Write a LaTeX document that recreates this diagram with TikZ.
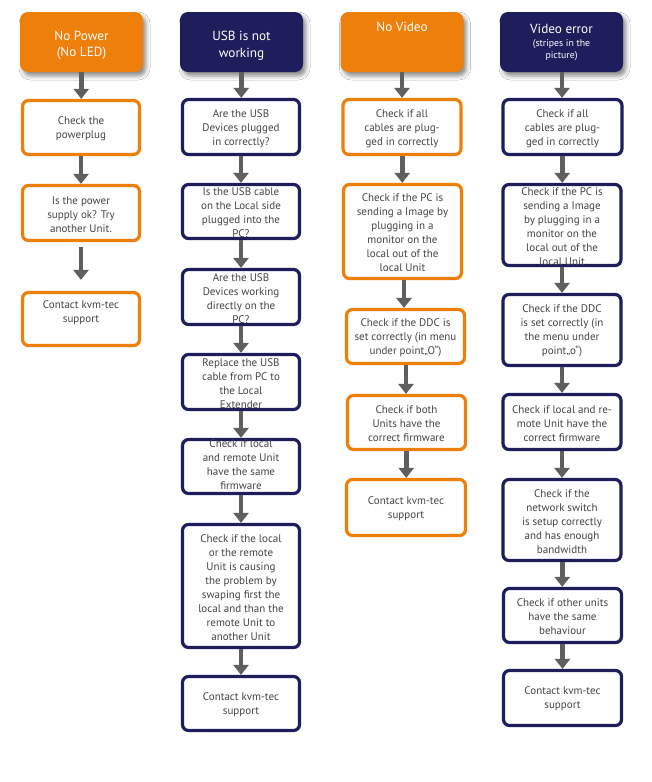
\documentclass[tikz,border=0pt]{standalone}
\usepackage{fontspec}
\setmainfont{PT Sans}
\usetikzlibrary{arrows.meta,calc,shadows.blur}
\definecolor{korange}{HTML}{EE7F0A}
\definecolor{knavy}{HTML}{1F1E5C}
\definecolor{ktext}{HTML}{444446}
\definecolor{karrow}{HTML}{5F5F5F}
\newcommand{\tb}[2][-4pt]{\makebox[0pt]{\raisebox{#1}[0pt][0pt]{\parbox[c]{150pt}{\centering #2}}}}
\newcommand{\hfour}{Video error\par\vspace{0.5pt}{\fontsize{9.8}{12.5}\selectfont (stripes in the\\picture)\par}}
\newcommand{\conn}[3][]{\draw[arr,#1] let \p1=(#2.south), \p2=(#3.north) in (\x1/2+\x2/2,\y1) -- (\x1/2+\x2/2,\y2);}
\tikzset{
  hdr/.style={fill=#1, rounded corners=8pt, minimum width=123pt, minimum height=60pt, inner sep=0pt,
    text=white, font=\fontsize{13.2}{16.5}\selectfont,
    blur shadow={shadow xshift=3pt, shadow yshift=-4pt, shadow blur radius=4pt, shadow opacity=45}},
  bx/.style={draw=#1, line width=3.2pt, fill=white, rounded corners=6pt, inner sep=0pt,
    text=ktext, font=\fontsize{11}{14}\selectfont},
  wh/.style 2 args={minimum width=#1pt, minimum height=#2pt},
  arr/.style={draw=karrow, line width=4.5pt, -{Triangle[width=15pt,length=10pt]}},
}
\begin{document}
\begin{tikzpicture}[x=1pt,y=-1pt]
\useasboundingbox[fill=white] (0,0) rectangle (651,782);
% headers
\node[hdr=korange] (H1) at (81.5,42) {\tb[-6.5pt]{No Power\\(No LED)}};
\node[hdr=knavy] (H2) at (241.5,42) {\tb[-6.5pt]{USB is not\\working}};
\node[hdr=korange] (H3) at (402,42) {\tb[12pt]{No Video}};
\node[hdr=knavy] (H4) at (561.5,42) {\tb[-3.5pt]{\hfour}};
% column 1
\node[bx=korange, wh={117}{54}] (A1) at (81,127.5) {\tb{Check the\\powerplug}};
\node[bx=korange, wh={117}{55}] (A2) at (81,213) {\tb{Is the power\\supply ok? Try\\another Unit.}};
\node[bx=korange, wh={117}{53}] (A3) at (81,319) {\tb[4pt]{Contact kvm-tec\\support}};
% column 2
\node[bx=knavy, wh={117}{55}] (B1) at (241,127) {\tb{Are the USB\\Devices plugged\\in correctly?}};
\node[bx=knavy, wh={117}{54}] (B2) at (241,211.5) {\tb{Is the USB cable\\on the Local side\\plugged into the\\PC?}};
\node[bx=knavy, wh={117}{55}] (B3) at (241,297) {\tb{Are the USB\\Devices working\\directly on the\\PC?}};
\node[bx=knavy, wh={117}{55}] (B4) at (241,382) {\tb{Replace the USB\\cable from PC to\\the Local\\Extender}};
\node[bx=knavy, wh={117}{54}] (B5) at (241,466.5) {\tb[-1pt]{Check if local\\and remote Unit\\have the same\\firmware}};
\node[bx=knavy, wh={117}{123}] (B6) at (241,586) {\tb{Check if the local\\or the remote\\Unit is causing\\the problem by\\swaping first the\\local and than the\\remote Unit to\\another Unit}};
\node[bx=knavy, wh={117}{54}] (B7) at (241,703.5) {\tb[-3.5pt]{Contact kvm-tec\\support}};
% column 3
\node[bx=korange, wh={118}{55}] (C1) at (402,127) {\tb{Check if all\\cables are plug-\\ged in correctly}};
\node[bx=korange, wh={118}{94}] (C2) at (402.5,231.5) {\tb{Check if the PC is\\sending a Image by\\plugging in a\\monitor on the\\local out of the\\local Unit}};
\node[bx=korange, wh={118}{54}] (C3) at (405.5,336.5) {\tb{Check if the DDC is\\set correctly (in menu\\under point„O“)}};
\node[bx=korange, wh={118}{54}] (C4) at (406.5,422.5) {\tb{Check if both\\Units have the\\correct firmware}};
\node[bx=korange, wh={119}{56}] (C5) at (406,507.5) {\tb[-3.5pt]{Contact kvm-tec\\support}};
% column 4
\node[bx=knavy, wh={119}{55}] (D1) at (562.5,127) {\tb{Check if all\\cables are plug-\\ged in correctly}};
\node[bx=knavy, wh={118}{81}] (D2) at (562,225) {\tb{Check if the PC is\\sending a Image\\by plugging in a\\monitor on the\\local out of the\\local Unit}};
\node[bx=knavy, wh={118}{71}] (D3) at (562,330) {\tb{Check if the DDC\\is set correctly (in\\the menu under\\point„o“)}};
\node[bx=knavy, wh={118}{55}] (D4) at (562,422) {\tb{Check if local and re-\\mote Unit have the\\correct firmware}};
\node[bx=knavy, wh={118}{81}] (D5) at (562,520) {\tb{Check if the\\network switch\\is setup correctly\\and has enough\\bandwidth}};
\node[bx=knavy, wh={118}{54}] (D6) at (562.5,615.5) {\tb{Check if other units\\have the same\\behaviour}};
\node[bx=knavy, wh={118}{55}] (D7) at (562.5,698) {\tb[-3.5pt]{Contact kvm-tec\\support}};
% connectors
\conn{H1}{A1}
\conn{A1}{A2}
\conn[shorten <=5pt, shorten >=11pt]{A2}{A3}
\conn{H2}{B1}
\conn{B1}{B2}
\conn{B2}{B3}
\conn{B3}{B4}
\conn{B4}{B5}
\conn{B5}{B6}
\conn{B6}{B7}
\conn{H3}{C1}
\conn{C1}{C2}
\conn{C2}{C3}
\conn{C3}{C4}
\conn{C4}{C5}
\conn{H4}{D1}
\conn{D1}{D2}
\conn{D2}{D3}
\conn{D3}{D4}
\conn{D4}{D5}
\conn{D5}{D6}
\conn{D6}{D7}
\end{tikzpicture}
\end{document}
